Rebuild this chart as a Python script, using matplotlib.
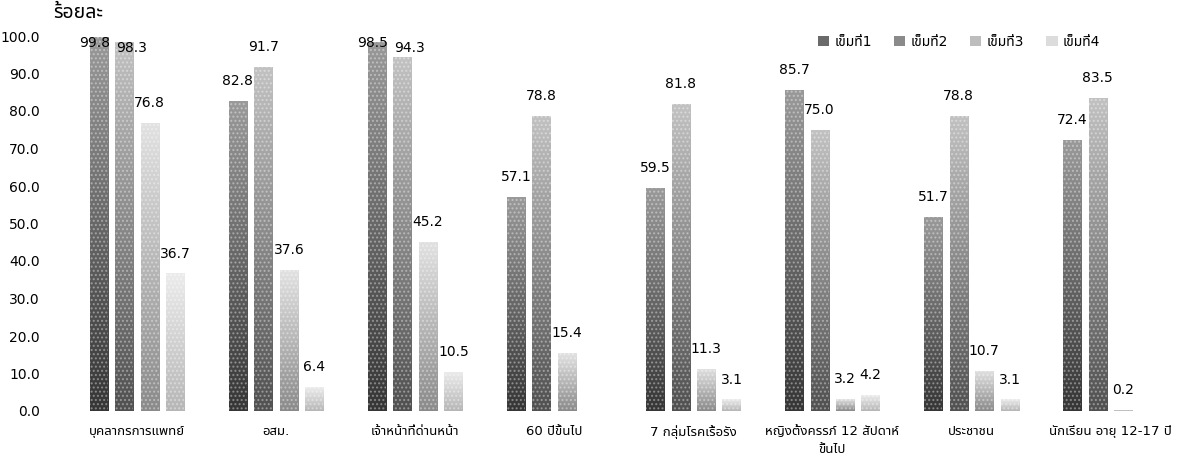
import numpy as np
import matplotlib
matplotlib.use("Agg")
import matplotlib.pyplot as plt
from matplotlib import font_manager
from matplotlib.ft2font import FT2Font
from matplotlib.colors import LinearSegmentedColormap
from matplotlib.patches import Patch

# ---------------- data ----------------
categories = ["บุคลากรการแพทย์", "อสม.", "เจ้าหน้าที่ด่านหน้า", "60 ปีขึ้นไป",
              "7 กลุ่มโรคเรื้อรัง", "หญิงตั้งครรภ์ 12 สัปดาห์\nขึ้นไป", "ประชาชน",
              "นักเรียน อายุ 12-17 ปี"]
series_names = ["เข็มที่1", "เข็มที่2", "เข็มที่3", "เข็มที่4"]
dose1 = [99.8, 82.8, 98.5, 57.1, 59.5, 85.7, 51.7, 72.4]
dose2 = [98.3, 91.7, 94.3, 78.8, 81.8, 75.0, 78.8, 83.5]
dose3 = [76.8, 37.6, 45.2, 15.4, 11.3, 3.2, 10.7, 0.2]
dose4 = [36.7, 6.4, 10.5, None, 3.1, 4.2, 3.1, None]
y_ticks = [0, 10, 20, 30, 40, 50, 60, 70, 80, 90, 100]
y_label = "ร้อยละ"

# ---------------- font with Thai glyphs ----------------
thai_font = None
preferred = ["Noto Sans Thai", "Noto Sans Thai UI", "Loma", "Garuda", "Sarabun",
             "Tlwg Typo", "Kinnari", "Norasi", "Waree", "Umpush"]
cands = []
for f in font_manager.fontManager.ttflist:
    try:
        cm = FT2Font(f.fname).get_charmap()
    except Exception:
        continue
    if 0x0E01 in cm and 0x0E49 in cm:
        cands.append(f.name)
for p in preferred:
    if p in cands:
        thai_font = p
        break
if thai_font is None and cands:
    thai_font = sorted(cands)[0]
fam = ["DejaVu Sans"] + ([thai_font] if thai_font else [])
plt.rcParams["font.family"] = fam

# ---------------- figure ----------------
W, H = 1180, 466
fig = plt.figure(figsize=(W / 100, H / 100), dpi=100)
ax = fig.add_axes([67.5 / W, 55 / H, 1 - 67.5 / W, 375 / H])

series = [dose1, dose2, dose3, dose4]
shades = [("#353535", "#9a9a9a"), ("#505050", "#c2c2c2"),
          ("#8a8a8a", "#e2e2e2"), ("#b6b6b6", "#ececec")]
legend_cols = ["#6a6a6a", "#8a8a8a", "#bdbdbd", "#dcdcdc"]
x = np.arange(len(categories))
pitch = 0.183
bw = 0.13
label_top = 98.1

labels = {}
for i, vals in enumerate(series):
    xs = [xx + (i - 1.5) * pitch for xx, v in zip(x, vals) if v is not None]
    vs = [v for v in vals if v is not None]
    bars = ax.bar(xs, vs, width=bw, color="none", linewidth=0, zorder=2)
    cmap = LinearSegmentedColormap.from_list("g%d" % i, [shades[i][0], shades[i][1]])
    grad = np.linspace(0, 1, 256).reshape(-1, 1)
    for b, v in zip(bars, vs):
        bx, by, w, h = b.get_x(), b.get_y(), b.get_width(), b.get_height()
        if h > 0:
            im = ax.imshow(grad, extent=[bx, bx + w, by, by + h], origin="lower",
                           aspect="auto", cmap=cmap, zorder=1.5,
                           interpolation="bilinear")
            im.set_clip_path(b)
            ax.bar(bx + w / 2, h, width=w, bottom=by, color="none",
                   edgecolor="white", hatch="....", linewidth=0, alpha=0.35,
                   zorder=2)
        labels.setdefault(int(round(bx + w / 2)), []).append(
            [bx + w / 2, min(v + 5.3, label_top), v])

for grp in labels.values():
    grp.sort(key=lambda t: t[0])
    for j in range(1, len(grp)):
        if grp[j - 1][1] >= label_top and grp[j][1] >= label_top - 1.5:
            grp[j - 1][0] -= 0.03
            grp[j][0] += 0.05
            grp[j][1] -= 1.2
    for lx, ly, v in grp:
        ax.text(lx, ly, f"{v:.1f}", ha="center", va="center",
                fontsize=10, color="black", zorder=3)

ax.set_xlim(-0.5, 7.5)
ax.set_ylim(0, 100)
ax.set_yticks(y_ticks)
ax.set_yticklabels([f"{t:.1f}" for t in y_ticks], fontsize=10)
ax.set_xticks(x)
ax.set_xticklabels(categories, fontsize=9.5, linespacing=1.5)
ax.tick_params(axis="y", length=0, pad=20)
ax.tick_params(axis="x", length=0, pad=10)
for s in ax.spines.values():
    s.set_visible(False)

fig.text(53 / W, 1 - 13 / H, y_label, fontsize=14, fontweight="bold",
         ha="left", va="center")

handles = [Patch(facecolor=c, edgecolor="none", hatch="....") for c in legend_cols]
fig.legend(handles, series_names, loc="center left",
           bbox_to_anchor=(805 / W, 1 - 42 / H), ncol=4, frameon=False,
           fontsize=10, handlelength=0.8, handleheight=0.8, handletextpad=0.4,
           columnspacing=1.6)

fig.savefig("out.png", dpi=100)
